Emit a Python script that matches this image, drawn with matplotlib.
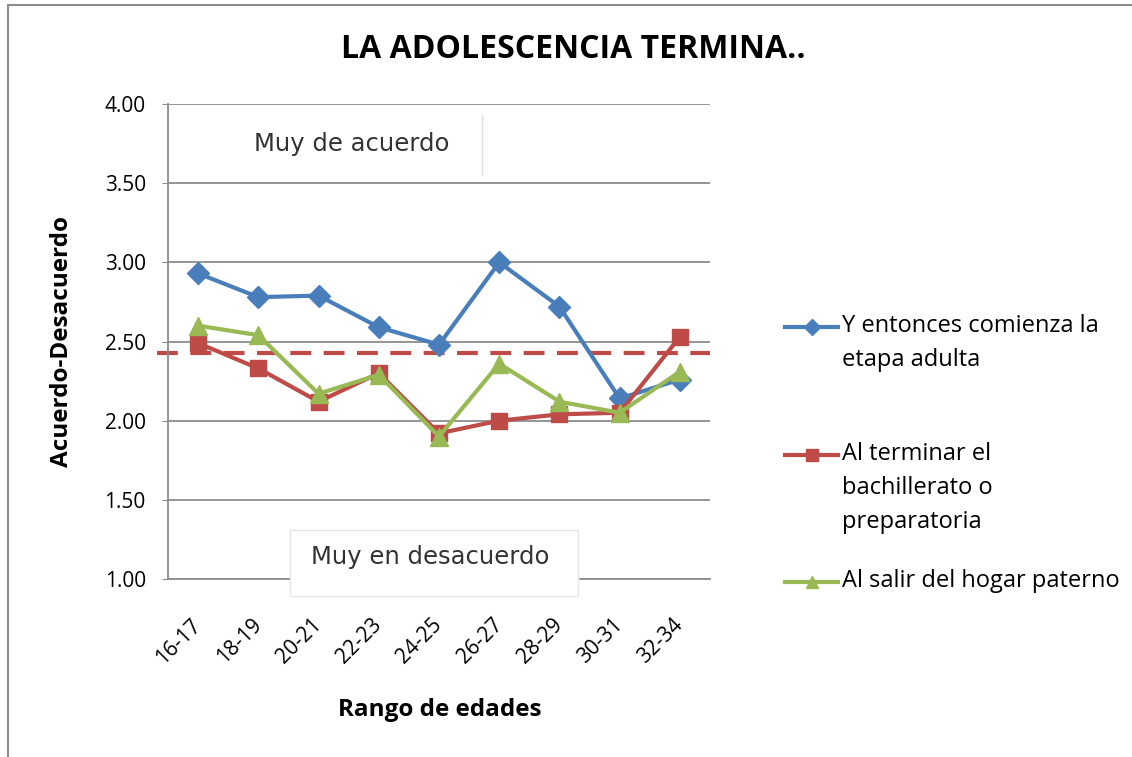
import matplotlib.pyplot as plt
import numpy as np
from matplotlib.patches import Rectangle
from matplotlib.lines import Line2D

plt.rcParams['font.family'] = ['Open Sans', 'DejaVu Sans']

# Data
age_ranges = ['16-17', '18-19', '20-21', '22-23', '24-25', '26-27', '28-29', '30-31', '32-34']
adulta = [2.93, 2.78, 2.79, 2.59, 2.48, 3.00, 2.72, 2.14, 2.26]
bachillerato = [2.49, 2.33, 2.12, 2.30, 1.92, 2.00, 2.04, 2.05, 2.53]
hogar = [2.60, 2.54, 2.17, 2.29, 1.90, 2.36, 2.12, 2.05, 2.31]
promedio = 2.43

labels = ['Y entonces comienza la\netapa adulta',
          'Al terminar el\nbachillerato o\npreparatoria',
          'Al salir del hogar paterno']
colors = ['#4A7EBB', '#BE4B48', '#98B954']
markers = ['D', 's', '^']

W, H = 1132, 757
fig = plt.figure(figsize=(W / 100, H / 100), dpi=100)
ax = fig.add_axes([168 / W, 1 - 579 / H, 542 / W, 475 / H])

# outer chart frame
fig.patches.append(Rectangle((8 / W, -0.05), 1.2, 1 - 5 / H + 0.05,
                             transform=fig.transFigure, fill=False,
                             edgecolor='#8c8c8c', linewidth=1.5))

x = np.arange(len(age_ranges))
series = [adulta, bachillerato, hogar]
sizes = [11, 12, 13]
for vals, c, m, s in zip(series, colors, markers, sizes):
    ax.plot(x, vals, color=c, marker=m, markersize=s, linewidth=3, zorder=3)

# average dashed line, slightly past the left axis
ax.plot([-0.68, 8.5], [promedio, promedio], color='#BE4B48', linewidth=3,
        linestyle=(0, (5, 3)), clip_on=False, zorder=2)

ax.set_xlim(-0.5, 8.5)
ax.set_ylim(1.0, 4.0)
yt = np.arange(1.0, 4.01, 0.5)
ax.set_yticks(yt)
ax.set_yticklabels(['%.2f' % v for v in yt], fontsize=15)
ax.set_xticks(x)
ax.set_xticklabels(age_ranges, rotation=45, ha='right', va='center',
                   rotation_mode='anchor', fontsize=15)
ax.grid(axis='y', color='#8c8c8c', linewidth=1.3)
ax.set_axisbelow(True)
for side in ['top', 'right']:
    ax.spines[side].set_visible(False)
for side in ['left', 'bottom']:
    ax.spines[side].set_color('#8c8c8c')
    ax.spines[side].set_linewidth(1.3)
ax.tick_params(axis='y', length=4, color='#8c8c8c', pad=12)
ax.tick_params(axis='x', length=0, pad=31)

ax.set_ylabel('Acuerdo-Desacuerdo', fontsize=17.5, fontweight='bold')
ax.yaxis.set_label_coords((62 - 168) / 542, 0.5)
ax.set_xlabel('Rango de edades', fontsize=17.5, fontweight='bold')
ax.xaxis.set_label_coords((440 - 168) / 542, (579 - 710) / 475)
ax.xaxis.label.set_va('center')
ax.yaxis.label.set_va('center')
fig.text(573 / W, 1 - 50 / H, 'LA ADOLESCENCIA TERMINA..', ha='center', va='center',
         fontsize=23, fontweight='bold')

# text boxes
fig.text(352 / W, 1 - 144 / H, 'Muy de acuerdo', ha='center', va='center',
         fontsize=17.5, color='#333333', family='DejaVu Sans')
fig.add_artist(Line2D([482 / W, 482 / W], [1 - 115 / H, 1 - 175 / H],
                      color='#dddddd', linewidth=1))
fig.patches.append(Rectangle((290 / W, 1 - 596 / H), 288 / W, 66 / H,
                             transform=fig.transFigure, facecolor='white',
                             edgecolor='#e6e6e6', linewidth=1, zorder=5))
fig.text(430 / W, 1 - 557 / H, 'Muy en desacuerdo', ha='center', va='center',
         fontsize=17.5, color='#333333', family='DejaVu Sans', zorder=6)

# legend drawn by hand: marker on the first line of each entry
legend_y = [327, 455, 582]
for lab, c, m, yy in zip(labels, colors, markers, legend_y):
    fy = 1 - yy / H
    fig.add_artist(Line2D([785 / W, 838 / W], [fy, fy], color=c, linewidth=3))
    fig.add_artist(Line2D([812 / W], [fy], color=c, marker=m, markersize=8, linewidth=0))
    fig.text(842 / W, 1 - (yy - 13) / H, lab, ha='left', va='top', fontsize=17,
             linespacing=1.55)

fig.savefig('out.png', dpi=100)
